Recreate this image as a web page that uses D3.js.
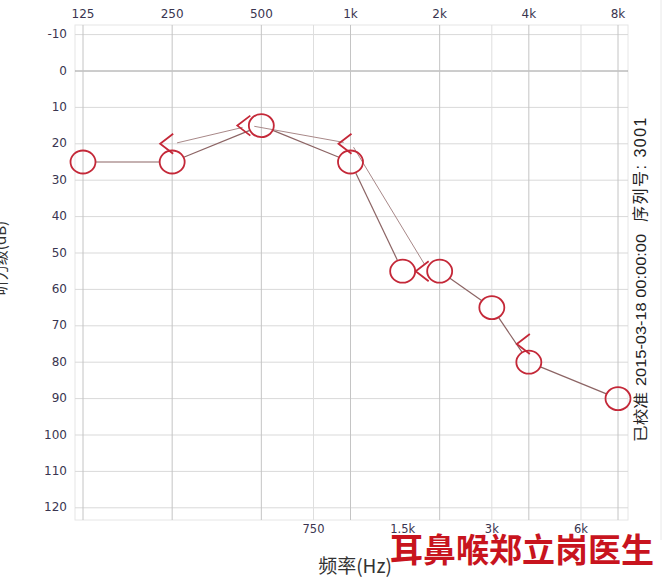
<!DOCTYPE html>
<html><head><meta charset="utf-8">
<script src="https://cdn.jsdelivr.net/npm/d3@7"></script>
<style>html,body{margin:0;padding:0;background:#fff;}svg{display:block;}</style>
</head><body>
<svg id="c" width="664" height="584"></svg>
<script>
// ---- data ----
const topTicks = [125, 250, 500, 1000, 2000, 4000, 8000];
const topTickLabels = ["125", "250", "500", "1k", "2k", "4k", "8k"];
const midTicks = [750, 1500, 3000, 6000];
const midTickLabels = ["750", "1.5k", "3k", "6k"];
const gridMidFreqs = [750, 3000, 6000];
const dbTicks = [-10, 0, 10, 20, 30, 40, 50, 60, 70, 80, 90, 100, 110, 120];
const airFreqs = [125, 250, 500, 1000, 1500, 2000, 3000, 4000, 8000];
const airValues = [25, 25, 15, 25, 55, 55, 65, 80, 90];
const boneFreqs = [250, 500, 1000, 2000, 4000];
const boneValues = [20, 15, 20, 55, 75];
const boneBreakAfter = [2000];
const yTitle = "听力级(dB)";
const xTitle = "频率(Hz)";
const sideTexts = ["已校准", "2015-03-18 00:00:00", "序列号: 3001"];
const watermark = "耳鼻喉郑立岗医生";

const svg = d3.select("#c");
const x = d3.scaleLog().base(2).domain([125, 8000]).range([83, 618]);
const y = d3.scaleLinear().domain([-10, 120]).range([34.6, 507.8]);
const L = 75, R = 628, T = 25, B = 520;

// frame
svg.append("rect").attr("x", L).attr("y", T).attr("width", R - L).attr("height", B - T)
  .attr("fill", "none").attr("stroke", "#e6e6e6");
// page edge
svg.append("line").attr("x1", 661).attr("x2", 661).attr("y1", 0).attr("y2", 540).attr("stroke", "#e8e8e8");

// horizontal grid
svg.append("g").selectAll("line").data(dbTicks).join("line")
  .attr("x1", L).attr("x2", R).attr("y1", d => y(d)).attr("y2", d => y(d))
  .attr("stroke", d => d === 0 ? "#9a9a9a" : "#d9d9d9").attr("stroke-width", 1);
// vertical grid
svg.append("g").selectAll("line").data(topTicks.concat(gridMidFreqs)).join("line")
  .attr("x1", d => x(d)).attr("x2", d => x(d)).attr("y1", T).attr("y2", B)
  .attr("stroke", d => topTicks.includes(d) ? "#c4c4c4" : "#dedede").attr("stroke-width", 1);

const tickFont = "'DejaVu Sans', Verdana, sans-serif";
// top labels
svg.append("g").selectAll("text").data(topTicks).join("text")
  .attr("x", d => x(d)).attr("y", 14).attr("text-anchor", "middle").attr("dominant-baseline", "middle")
  .attr("font-family", tickFont).attr("font-size", 12).attr("fill", "#3a3550")
  .text((d, i) => topTickLabels[i]);
// y labels
svg.append("g").selectAll("text").data(dbTicks).join("text")
  .attr("x", 67).attr("y", d => y(d)).attr("text-anchor", "end").attr("dominant-baseline", "middle")
  .attr("font-family", tickFont).attr("font-size", 12).attr("fill", "#3a3550")
  .text(d => d);
// bottom labels
svg.append("g").selectAll("text").data(midTicks).join("text")
  .attr("x", d => x(d)).attr("y", 529).attr("text-anchor", "middle").attr("dominant-baseline", "middle")
  .attr("font-family", tickFont).attr("font-size", 11.5).attr("fill", "#3a3550")
  .text((d, i) => midTickLabels[i]);

// y title (clipped at left edge, as in the source)
svg.append("text").attr("transform", "translate(6,258) rotate(-90)")
  .attr("text-anchor", "middle").attr("font-family", "'Noto Sans CJK SC', sans-serif")
  .attr("font-size", 15).attr("fill", "#333").text(yTitle);
// x title
svg.append("text").attr("x", 355).attr("y", 573).attr("text-anchor", "middle")
  .attr("font-family", "'Noto Sans CJK SC', sans-serif").attr("font-size", 19).attr("fill", "#333").text(xTitle);

// side texts (rotated)
const sidePos = [442, 386, 222];
const sideSize = [14.5, 14.5, 16];
svg.append("g").selectAll("text").data(sideTexts).join("text")
  .attr("transform", (d, i) => `translate(646,${sidePos[i]}) rotate(-90)`)
  .attr("font-family", "'Liberation Sans', 'Noto Sans CJK SC', sans-serif")
  .attr("font-size", (d, i) => sideSize[i])
  .attr("letter-spacing", (d, i) => i === 2 ? 1.5 : 0)
  .attr("fill", "#222").text(d => d)
  .each(function (d, i) {
    if (i < 2) d3.select(this).attr("textLength", i === 0 ? 50 : 152).attr("lengthAdjust", "spacingAndGlyphs");
  });

// ---- marks ----
const airPts = airFreqs.map((f, i) => ({ f, v: airValues[i], px: x(f), py: y(airValues[i]) }));
const bonePts = boneFreqs.map((f, i) => {
  const ai = airFreqs.indexOf(f);
  const same = ai >= 0 && Math.abs(airValues[ai] - boneValues[i]) < 5;
  const px = x(f), py = y(boneValues[i]);
  const open = same ? px - 11 : px + 1;
  return { f, v: boneValues[i], px, py, open, tip: open - 13 };
});

function trimSeg(a, b, ta, tb) {
  const dx = b[0] - a[0], dy = b[1] - a[1], len = Math.hypot(dx, dy);
  return { len, x1: a[0] + dx * ta / len, y1: a[1] + dy * ta / len, x2: b[0] - dx * tb / len, y2: b[1] - dy * tb / len };
}

// air lines
const airSegs = [];
for (let i = 0; i < airPts.length - 1; i++) {
  const s = trimSeg([airPts[i].px, airPts[i].py], [airPts[i + 1].px, airPts[i + 1].py], 12.5, 12.5);
  if (s.len - 25 > 15) airSegs.push(s);
}
svg.append("g").selectAll("line").data(airSegs).join("line")
  .attr("x1", d => d.x1).attr("y1", d => d.y1).attr("x2", d => d.x2).attr("y2", d => d.y2)
  .attr("stroke", "#8c6464").attr("stroke-width", 1.2);

// bone lines
const boneSegs = [];
for (let i = 0; i < bonePts.length - 1; i++) {
  if (boneBreakAfter.includes(bonePts[i].f)) continue;
  boneSegs.push(trimSeg([bonePts[i].open, bonePts[i].py], [bonePts[i + 1].open, bonePts[i + 1].py], 4, 8));
}
svg.append("g").selectAll("line").data(boneSegs).join("line")
  .attr("x1", d => d.x1).attr("y1", d => d.y1).attr("x2", d => d.x2).attr("y2", d => d.y2)
  .attr("stroke", "#a88888").attr("stroke-width", 1);

// air markers (O)
svg.append("g").selectAll("ellipse").data(airPts).join("ellipse")
  .attr("cx", d => d.px).attr("cy", d => d.py).attr("rx", 12.5).attr("ry", 11.5)
  .attr("fill", "none").attr("stroke", "#c42838").attr("stroke-width", 1.8);

// bone markers (<)
svg.append("g").selectAll("path").data(bonePts).join("path")
  .attr("d", d => `M${d.open},${d.py - 10} L${d.tip},${d.py} L${d.open},${d.py + 10}`)
  .attr("fill", "none").attr("stroke", "#c42838").attr("stroke-width", 1.8).attr("stroke-linejoin", "miter");

// watermark
svg.append("text").attr("x", 522).attr("y", 562).attr("text-anchor", "middle")
  .attr("font-family", "'Noto Sans CJK SC', sans-serif").attr("font-weight", "bold")
  .attr("font-size", 33).attr("fill", "#c8141e").text(watermark);
</script>
</body></html>
